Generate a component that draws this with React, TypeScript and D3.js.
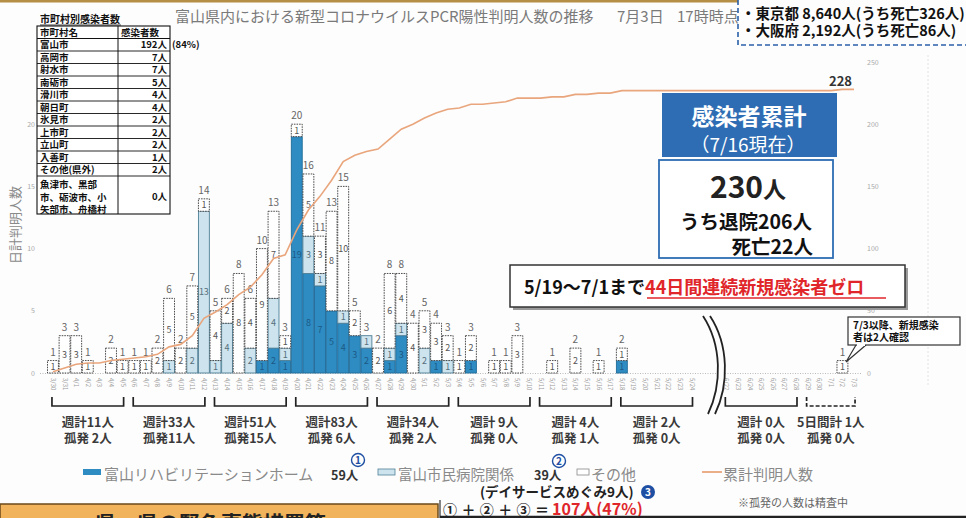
import React from 'react';
import * as d3 from 'd3';

const FONT = '"Noto Sans CJK JP", "Noto Sans", sans-serif';
const W = 966;
const H = 518;

// days shown: 3/30〜5/24, then (break) 6/22〜7/3
const earlyDates = d3.timeDay.range(new Date(2020, 2, 30), new Date(2020, 4, 25));
const lateDates = d3.timeDay.range(new Date(2020, 5, 22), new Date(2020, 6, 4));

// 富山リハビリテーションホーム
const rehabEarly = [
  0, 0, 0, 0, 0, 0, 0, 0, 0, 0,
  0, 0, 0, 0, 0, 0, 0, 0, 1, 2,
  1, 19, 8, 7, 5, 4, 3, 2, 0, 1,
  3, 0, 0, 1, 0, 0, 1, 0, 0, 0,
  0, 0, 0, 0, 0, 0, 0, 0, 0, 1,
  0, 0, 0, 0, 0, 0,
];
// 富山市民病院関係
const hospitalEarly = [
  0, 0, 0, 0, 0, 0, 0, 0, 0, 0,
  1, 0, 2, 13, 1, 4, 0, 2, 0, 4,
  1, 0, 3, 1, 0, 1, 0, 1, 0, 1,
  1, 0, 2, 0, 1, 0, 0, 0, 0, 0,
  0, 0, 0, 0, 0, 0, 0, 0, 0, 0,
  0, 0, 0, 0, 0, 0,
];
// その他
const otherEarly = [
  1, 3, 3, 1, 0, 2, 1, 1, 1, 2,
  5, 2, 5, 1, 4, 2, 8, 4, 9, 7,
  1, 1, 5, 3, 8, 10, 2, 0, 2, 6,
  4, 4, 3, 3, 2, 1, 2, 0, 1, 1,
  3, 0, 0, 1, 0, 2, 0, 1, 0, 1,
  0, 0, 0, 0, 0, 0,
];
const rehabLate = [0, 0, 0, 0, 0, 0, 0, 0, 0, 0, 0, 0];
const hospitalLate = [0, 0, 0, 0, 0, 0, 0, 0, 0, 0, 0, 0];
const otherLate = [0, 0, 0, 0, 0, 0, 0, 0, 0, 0, 1, 0];

const weekSpans = [
  ['3/30', '4/5'], ['4/6', '4/12'], ['4/13', '4/19'], ['4/20', '4/26'],
  ['4/27', '5/3'], ['5/4', '5/10'], ['5/11', '5/17'], ['5/18', '5/24'],
  ['6/22', '6/28'], ['6/29', '7/3'],
];
const weekTotals = [11, 33, 51, 83, 34, 9, 4, 2, 0, 1];
const weekSporadic = [2, 11, 15, 6, 2, 0, 1, 0, 0, 0];

const cityNames = ['富山市', '高岡市', '射水市', '南砺市', '滑川市', '朝日町', '氷見市', '上市町', '立山町', '入善町', 'その他(県外)'];
const cityCounts = [192, 7, 7, 5, 4, 4, 2, 2, 2, 1, 2];
const zeroCityLines = ['魚津市、黒部', '市、砺波市、小', '矢部市、舟橋村'];

const leftTicks = [0, 5, 10, 15, 20];
const rightTicks = [0, 50, 100, 150, 200, 250];

const DARK = '#2f8cc2';
const LIGHT = '#cde4ee';
const ORANGE = '#e9a57c';
const CIRCLE = '#1f4fa3';

export default function App() {
  const fmt = d3.timeFormat('%-m/%-d');
  const earlyLabels = earlyDates.map(fmt);
  const lateLabels = lateDates.map(fmt);
  const labels = [...earlyLabels, ...lateLabels];
  const slots = [...earlyLabels, 'gap1', 'gap2', ...lateLabels];

  const rehab = [...rehabEarly, ...rehabLate];
  const hospital = [...hospitalEarly, ...hospitalLate];
  const other = [...otherEarly, ...otherLate];
  const rows = labels.map((label, i) => ({ label, rehab: rehab[i], hospital: hospital[i], other: other[i] }));
  const totals = rows.map(r => r.rehab + r.hospital + r.other);
  const cum = Array.from(d3.cumsum(totals));

  const x = d3.scaleBand<string>().domain(slots).range([47.5, 859.5]).paddingInner(0.06);
  const bw = x.bandwidth();
  const cx = (l: string) => (x(l) as number) + bw / 2;
  const y = d3.scaleLinear().domain([0, 25]).range([373, 62]);
  const yCum = d3.scaleLinear().domain([0, 250]).range([373, 62]);

  const stacked = d3.stack<any>().keys(['rehab', 'hospital', 'other'])(rows);

  const line = d3.line<number>()
    .x((_, i) => cx(labels[i]))
    .y(d => yCum(d))(cum) as string;

  const segStyle = (k: string) => {
    if (k === 'rehab') return { fill: DARK, stroke: '#1f6a98', dash: undefined, txt: '#1b5a86' };
    if (k === 'hospital') return { fill: LIGHT, stroke: '#4f7f96', dash: undefined, txt: '#56707c' };
    return { fill: '#ffffff', stroke: '#3a3a3a', dash: '1.6,1', txt: '#555' };
  };

  const tableTop = 26;
  const rowH = 12.5;
  const legY = 480;

  return (
    <svg width={W} height={H} style={{ position: 'absolute', left: 0, top: 0, background: '#fdfdfd', fontFamily: FONT }}>
      {/* top strip */}
      <rect x={0} y={0} width={738} height={2.5} fill="#b48f45" />

      {/* title */}
      <text x={175} y={22} fontSize={15} fill="#7a7a7a">富山県内における新型コロナウイルスPCR陽性判明人数の推移</text>
      <text x={617} y={22} fontSize={15} fill="#7a7a7a">7月3日</text>
      <text x={677} y={22} fontSize={15} fill="#7a7a7a">17時時点</text>

      {/* top-right dashed box */}
      <path d="M738,0 V45 H966" fill="none" stroke="#2b5fa8" strokeWidth={1.6} strokeDasharray="5,3" />
      <text x={741} y={19} fontSize={14.5} fontWeight={700} fill="#111">・東京都 8,640人(うち死亡326人)</text>
      <text x={741} y={36} fontSize={14.5} fontWeight={700} fill="#111">・大阪府 2,192人(うち死亡86人)</text>

      {/* faint guides */}
      <line x1={928} x2={928} y1={55} y2={385} stroke="#e2e2e2" strokeDasharray="2,2" />
      <line x1={40} x2={862} y1={373.5} y2={373.5} stroke="#bbb" strokeDasharray="1,1.5" />

      {/* axes labels */}
      {leftTicks.map(t => (
        <text key={'l' + t} x={35} y={y(t) + 2.5} fontSize={7} fill="#aaa" textAnchor="end">{t}</text>
      ))}
      {rightTicks.map(t => (
        <text key={'r' + t} x={867} y={yCum(t) + 2.5} fontSize={7} fill="#aaa">{t}</text>
      ))}
      <text transform="translate(20,225) rotate(-90)" fontSize={13} fill="#8a8a8a" textAnchor="middle">日計判明人数</text>

      {/* bars */}
      {stacked.map(series => {
        const st = segStyle(series.key);
        return series.map((d, i) => {
          const v = d[1] - d[0];
          if (v <= 0) return null;
          const l = labels[i];
          const top = y(d[1]);
          const bot = y(d[0]);
          return (
            <g key={series.key + l}>
              <rect x={x(l)} y={top} width={bw} height={bot - top} fill={st.fill} stroke={st.stroke}
                strokeWidth={0.9} strokeDasharray={st.dash} />
              <text x={cx(l)} y={(top + bot) / 2 + 3.2} fontSize={9} fill={st.txt} textAnchor="middle">{v}</text>
            </g>
          );
        });
      })}
      {rows.map((r, i) => totals[i] > 0 && (
        <text key={'t' + r.label} x={cx(r.label)} y={y(totals[i]) - 5} fontSize={10} fill="#666" textAnchor="middle">{totals[i]}</text>
      ))}

      {/* cumulative line */}
      <path d={line} fill="none" stroke={ORANGE} strokeWidth={1.6} />
      <text x={852} y={86} fontSize={13} fontWeight={700} fill="#333" textAnchor="end">{cum[cum.length - 1]}</text>

      {/* date labels */}
      {labels.map(l => (
        <text key={'d' + l} transform={`translate(${cx(l) - 2},378) rotate(90)`} fontSize={6} fill="#999">{l}</text>
      ))}

      {/* week brackets */}
      {weekSpans.map(([a, b], i) => {
        const x0 = cx(a) - 1;
        const x1 = cx(b) + 1;
        const mid = (x0 + x1) / 2;
        const last = i === weekSpans.length - 1;
        const tot = weekTotals[i];
        const sp = weekSporadic[i];
        return (
          <g key={'w' + i}>
            <path d={`M${x0},397 V406 H${x1} V397`} fill="none" stroke="#222" strokeWidth={1.7}
              strokeDasharray={last ? '4,2' : undefined} />
            <text x={mid} y={427} fontSize={12.5} fontWeight={700} fill="#3a3a3a" textAnchor="middle" style={{ whiteSpace: 'pre' }}>
              {`${last ? '5日間計' : '週計'}${tot < 10 ? ' ' : ''}${tot}人`}
            </text>
            <text x={mid} y={443} fontSize={12.5} fontWeight={700} fill="#3a3a3a" textAnchor="middle" style={{ whiteSpace: 'pre' }}>
              {`孤発${sp < 10 ? ' ' : ''}${sp}人`}
            </text>
          </g>
        );
      })}

      {/* break mark */}
      <path d="M706.5,316 C725.5,345 725.5,385 711.5,414" fill="none" stroke="#fdfdfd" strokeWidth={7} />
      <path d="M703,316 C722,345 722,385 708,414" fill="none" stroke="#222" strokeWidth={1.8} />
      <path d="M710,316 C729,345 729,385 715,414" fill="none" stroke="#222" strokeWidth={1.8} />

      {/* municipality table */}
      <text x={40} y={23} fontSize={10} fontWeight={700} fill="#111">市町村別感染者数</text>
      <line x1={40} x2={121} y1={25} y2={25} stroke="#111" strokeWidth={0.8} />
      <rect x={37} y={tableTop} width={133} height={188} fill="#fff" stroke="#111" strokeWidth={1.1} />
      <line x1={118} x2={118} y1={tableTop} y2={214} stroke="#111" strokeWidth={1} />
      <text x={40} y={tableTop + 9.8} fontSize={9.5} fontWeight={700} fill="#111">市町村名</text>
      <text x={121} y={tableTop + 9.8} fontSize={9.5} fontWeight={700} fill="#111">感染者数</text>
      <line x1={37} x2={170} y1={tableTop + rowH} y2={tableTop + rowH} stroke="#111" strokeWidth={1} />
      {cityNames.map((n, i) => {
        const ty = tableTop + rowH * (i + 1);
        return (
          <g key={'c' + n}>
            <text x={40} y={ty + 9.8} fontSize={9.5} fontWeight={700} fill="#111">{n}</text>
            <text x={167} y={ty + 9.8} fontSize={9.5} fontWeight={700} fill="#111" textAnchor="end">{cityCounts[i]}人</text>
            <line x1={37} x2={170} y1={ty + rowH} y2={ty + rowH} stroke="#111" strokeWidth={0.9} />
          </g>
        );
      })}
      <text x={172} y={tableTop + rowH + 9.8} fontSize={9.5} fontWeight={700} fill="#111">(84%)</text>
      {zeroCityLines.map((t, i) => (
        <text key={'z' + i} x={40} y={188 + i * 12.5} fontSize={9.5} fontWeight={700} fill="#111">{t}</text>
      ))}
      <text x={167} y={200} fontSize={9.5} fontWeight={700} fill="#111" textAnchor="end">0人</text>

      {/* cumulative boxes */}
      <rect x={662} y={93} width={175} height={64} fill="#2e6db3" />
      <text x={749} y={125} fontSize={23} fontWeight={700} fill="#fff" textAnchor="middle">感染者累計</text>
      <text x={748} y={152} fontSize={19} fill="#fff" textAnchor="middle">（7/16現在）</text>
      <rect x={659} y={160} width={174} height={98} fill="#fff" stroke="#2e6db3" strokeWidth={1.8} />
      <text x={748} y={198} fontWeight={700} fill="#222" textAnchor="middle">
        <tspan fontSize={30}>230</tspan><tspan fontSize={23}>人</tspan>
      </text>
      <text x={746} y={229} fontSize={19.5} fontWeight={700} fill="#111" textAnchor="middle">うち退院206人</text>
      <text x={813} y={254} fontSize={19.5} fontWeight={700} fill="#111" textAnchor="end">死亡22人</text>

      {/* zero-days box */}
      <rect x={513} y={268} width={395} height={42} fill="#9a9a9a" />
      <rect x={510} y={265} width={395} height={42} fill="#fff" stroke="#333" strokeWidth={1.5} />
      <text x={524} y={294} fontSize={18} fontWeight={700} fill="#111">
        5/19〜7/1まで<tspan fill="#e0262a">44日間連続新規感染者ゼロ</tspan>
      </text>
      <line x1={647} x2={886} y1={298} y2={298} stroke="#e0262a" strokeWidth={1.6} />

      {/* callout */}
      <path d="M856,345 L846,362 L866,345" fill="#fff" stroke="#333" strokeWidth={1.2} />
      <rect x={848} y={317} width={112} height={28} fill="#fff" stroke="#333" strokeWidth={1.2} />
      <line x1={857} x2={865} y1={345} y2={345} stroke="#fff" strokeWidth={2} />
      <text x={853} y={329} fontSize={10} fontWeight={700} fill="#111">7/3以降、新規感染</text>
      <text x={853} y={341} fontSize={10} fontWeight={700} fill="#111">者は2人確認</text>

      {/* legend */}
      <rect x={83} y={legY - 11} width={18} height={6} fill={DARK} />
      <text x={104} y={legY} fontSize={15} fill="#8a8a8a">富山リハビリテーションホーム</text>
      <text x={331} y={legY} fontSize={12.5} fontWeight={700} fill="#333">{d3.sum(rehab)}人</text>
      <circle cx={358} cy={legY - 20} r={6.5} fill="#fdfdfd" stroke={CIRCLE} strokeWidth={1.4} />
      <text x={358} y={legY - 16.5} fontSize={10} fontWeight={700} fill={CIRCLE} textAnchor="middle">1</text>

      <rect x={378} y={legY - 11} width={17} height={6} fill={LIGHT} stroke="#4f7f96" strokeWidth={0.8} />
      <text x={398} y={legY} fontSize={14.5} fill="#8a8a8a">富山市民病院関係</text>
      <text x={534} y={legY} fontSize={12.5} fontWeight={700} fill="#333">{d3.sum(hospital)}人</text>
      <circle cx={559} cy={legY - 19} r={6.5} fill="#fdfdfd" stroke={CIRCLE} strokeWidth={1.4} />
      <text x={559} y={legY - 15.5} fontSize={10} fontWeight={700} fill={CIRCLE} textAnchor="middle">2</text>

      <rect x={577} y={legY - 11} width={12} height={6} fill="#fff" stroke="#888" strokeWidth={0.8} />
      <text x={591} y={legY} fontSize={15} fill="#8a8a8a">その他</text>

      <line x1={702} x2={722} y1={legY - 8} y2={legY - 8} stroke={ORANGE} strokeWidth={1.8} />
      <text x={723} y={legY} fontSize={15} fill="#8a8a8a">累計判明人数</text>

      <text x={480} y={497} fontSize={13.5} fontWeight={700} fill="#222">(デイサービスめぐみ9人)</text>
      <circle cx={648} cy={492} r={7} fill={CIRCLE} />
      <text x={648} y={496} fontSize={10} fontWeight={700} fill="#fff" textAnchor="middle">3</text>

      <text x={443} y={515} fontSize={14} fontWeight={700} fill="#222" textLength={106} lengthAdjust="spacing">①＋②＋③＝</text>
      <text x={552} y={515} fontSize={16} fontWeight={700} fill="#e0262a">107人(47%)</text>
      <text x={738} y={507} fontSize={11} fill="#666">※孤発の人数は精査中</text>

      {/* bottom frame */}
      <rect x={0} y={504} width={438} height={16} fill="#f1b35c" stroke="#6b4a1a" strokeWidth={1.5} />
      <text x={95} y={531} fontSize={21} fontWeight={700} fill="#222">県　県の緊急事態措置等</text>
      <line x1={440} x2={440} y1={500} y2={518} stroke="#333" strokeWidth={1.2} />
      <line x1={440} x2={966} y1={517} y2={517} stroke="#222" strokeWidth={2.5} />
    </svg>
  );
}
